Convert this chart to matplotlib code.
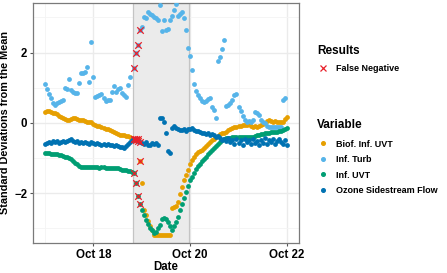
import numpy as np
import pandas as pd
import matplotlib
matplotlib.use('Agg')
import matplotlib.pyplot as plt
import matplotlib.dates as mdates
from matplotlib.lines import Line2D

plt.rcParams['font.family'] = ['Liberation Sans', 'DejaVu Sans']
plt.rcParams['font.weight'] = 'bold'

start = pd.Timestamp('2021-10-17 00:00')

# hourly series, starting Oct 17 00:00
biof_uvt = [0.32, 0.33, 0.33, 0.30, 0.29, 0.28, 0.24, 0.20, 0.17, 0.15,
            0.11, 0.09, 0.09, 0.10, 0.13, 0.15, 0.12, 0.09, 0.08, 0.07,
            0.05, 0.03, 0.03, 0.01, -0.02, -0.05, -0.08, -0.10, -0.12, -0.14,
            -0.17, -0.19, -0.21, -0.24, -0.27, -0.29, -0.32, -0.35, -0.36, -0.36,
            -0.37, -0.38, -0.40, -0.43, -0.47, -0.49, -0.47, -1.09, -1.71, -2.49,
            -2.63, -2.80, -2.95, -3.05, -3.20, -3.20, -3.20, -3.20, -3.20, -3.20,
            -3.20, -3.20, -3.20, -2.43, -2.41, -2.38, -2.25, -2.02, -1.82, -1.64,
            -1.48, -1.33, -1.18, -1.06, -0.97, -0.90, -0.84, -0.80, -0.76, -0.71,
            -0.66, -0.61, -0.56, -0.50, -0.45, -0.41, -0.37, -0.33, -0.30, -0.28,
            -0.25, -0.21, -0.17, -0.14, -0.12, -0.11, -0.10, -0.08, -0.06, -0.06,
            -0.05, -0.04, -0.08, -0.11, -0.10, -0.11, -0.09, -0.06, -0.03, 0.00,
            0.05, 0.09, 0.06, 0.03, 0.04, 0.03, 0.02, 0.03, 0.02, 0.10, 0.17]

inf_uvt = [-0.86, -0.86, -0.87, -0.88, -0.89, -0.90, -0.90, -0.91, -0.92, -0.94,
           -0.96, -0.98, -1.00, -1.03, -1.08, -1.13, -1.18, -1.22, -1.25, -1.26,
           -1.26, -1.25, -1.26, -1.27, -1.26, -1.25, -1.27, -1.28, -1.26, -1.27,
           -1.29, -1.28, -1.30, -1.29, -1.28, -1.30, -1.29, -1.31, -1.33, -1.34,
           -1.34, -1.36, -1.38, -1.41, -1.43, -1.72, -2.09, -2.31, -2.49, -2.63,
           -2.77, -2.88, -2.98, -3.06, -3.14, -3.10, -3.00, -2.90, -2.73, -2.71,
           -2.74, -2.82, -2.95, -3.04, -2.95, -2.82, -2.68, -2.48, -2.32, -2.14,
           -1.96, -1.80, -1.64, -1.54, -1.43, -1.31, -1.24, -1.16, -1.10, -1.03,
           -0.97, -0.90, -0.83, -0.77, -0.72, -0.66, -0.61, -0.55, -0.49, -0.45,
           -0.43, -0.42, -0.42, -0.40, -0.41, -0.40, -0.39, -0.41, -0.40, -0.39,
           -0.40, -0.41, -0.39, -0.40, -0.38, -0.36, -0.34, -0.33, -0.31, -0.30,
           -0.29, -0.28, -0.26, -0.27, -0.26, -0.25, -0.24, -0.22, -0.20, -0.17, -0.14]

ozone_flow = [-0.60, -0.58, -0.55, -0.57, -0.52, -0.55, -0.53, -0.57, -0.54, -0.52,
              -0.56, -0.53, -0.50, -0.46, -0.52, -0.55, -0.53, -0.57, -0.55, -0.58,
              -0.55, -0.57, -0.60, -0.56, -0.58, -0.60, -0.57, -0.59, -0.62, -0.60,
              -0.63, -0.61, -0.64, -0.62, -0.65, -0.63, -0.67, -0.70, -0.68, -0.72,
              -0.66, -0.60, -0.55, -0.50, -0.45, -0.47, -0.52, -0.55, -0.57, -0.60,
              -0.55, -0.62, -0.64, -0.58, -0.60, -0.57, -0.62, 0.14, 0.14, 0.02,
              -0.29, -0.80, -0.86, -0.14, -0.10, -0.15, -0.18, -0.20, -0.20, -0.18,
              -0.22, -0.17, -0.19, -0.15, -0.20, -0.24, -0.22, -0.26, -0.30, -0.28,
              -0.33, -0.30, -0.35, -0.32, -0.36, -0.40, -0.38, -0.43, -0.50, -0.46,
              -0.52, -0.44, -0.55, -0.48, -0.60, -0.45, -0.58, -0.50, -0.62, -0.47,
              -0.56, -0.50, -0.60, -0.45, -0.58, -0.52, -0.62, -0.48, -0.57, -0.44,
              -0.60, -0.50, -0.55, -0.45, -0.60, -0.52, -0.47, -0.55, -0.60, -0.50, -0.62]

# turbidity has a few missing hours
turb_hours = list(range(0, 43)) + list(range(44, 120))
turb_vals = [1.11, 0.97, 0.82, 0.70, 0.57, 0.51, 0.55, 0.60, 0.63, 0.65,
             1.00, 0.97, 1.26, 0.94, 0.89, 0.86, 0.86, 1.12, 1.43, 1.41,
             1.46, 1.58, 1.15, 2.29, 1.31, 0.74, 0.77, 0.80, 0.83, 0.70,
             0.63, 0.64, 0.66, 0.89, 1.04, 0.89, 0.97, 1.00, 0.86, 0.80,
             0.74, 1.09, 1.29,
             1.57, 1.99, 2.22, 2.63, 2.74, 3.00, 2.97, 3.14, 3.09, 3.06,
             3.00, 2.97, 2.94, 3.34, 2.60, 2.94, 2.63, 2.66, 2.94, 3.03,
             3.20, 3.37, 3.05, 3.11, 3.14, 2.97, 2.63, 2.14, 1.89, 1.49,
             1.11, 0.91, 0.80, 0.71, 0.63, 0.60, 0.62, 0.68, 0.71, 0.45,
             0.37, 0.14, 1.77, 1.86, 2.09, 2.37, 0.47, 0.52, 0.57, 0.66,
             0.80, 0.83, 0.45, 0.35, 0.18, 0.09, 0.03, 0.04, 0.03, 0.09,
             0.30, 0.29, 0.21, 0.07, 0.03, 0.00, -0.10, -0.12, -0.12, -0.13,
             -0.12, -0.13, -0.12, -0.11, 0.66, 0.71]

fn_hours = [44, 45, 46, 47]
event_hours = (43.8, 71.3)

colors = {'Biof. Inf. UVT': '#E69F00', 'Inf. Turb': '#56B4E9',
          'Inf. UVT': '#009E73', 'Ozone Sidestream Flow': '#0072B2'}


def to_time(hours):
    return start + pd.to_timedelta(np.asarray(hours, dtype=float), unit='h')


series = {
    'Biof. Inf. UVT': (list(range(len(biof_uvt))), biof_uvt),
    'Inf. Turb': (turb_hours, turb_vals),
    'Inf. UVT': (list(range(len(inf_uvt))), inf_uvt),
    'Ozone Sidestream Flow': (list(range(len(ozone_flow))), ozone_flow),
}

fig = plt.figure(figsize=(4.47, 2.73), dpi=100)
ax = fig.add_axes([0.0738, 0.11, 0.595, 0.879])

ax.axvspan(to_time([event_hours[0]])[0], to_time([event_hours[1]])[0],
           facecolor='#ebebeb', edgecolor='#c4c4c4', lw=0.9, zorder=1)

for name, (hrs, vals) in series.items():
    ax.scatter(to_time(hrs), vals, s=12, color=colors[name], linewidths=0, zorder=3)

# false negatives
for name, (hrs, vals) in series.items():
    lookup = dict(zip(hrs, vals))
    fx = [h for h in fn_hours if h in lookup]
    fy = [lookup[h] for h in fx]
    ax.scatter(to_time(fx), fy, marker='x', s=22, color='#E8202A', linewidths=0.9, zorder=4)

ax.set_xlim(to_time([-6])[0], to_time([126])[0])
ax.set_ylim(-3.42, 3.41)
ax.set_yticks([-2, 0, 2])
ax.set_yticks([-3, -1, 1, 3], minor=True)
ax.xaxis.set_major_locator(mdates.DayLocator(bymonthday=[18, 20, 22]))
ax.xaxis.set_minor_locator(mdates.DayLocator(bymonthday=[17, 19, 21]))
ax.xaxis.set_major_formatter(mdates.DateFormatter('%b %d'))

ax.grid(which='major', color='#ebebeb', lw=1.0, zorder=0)
ax.grid(which='minor', color='#f4f4f4', lw=0.6, zorder=0)
ax.set_axisbelow(True)
for s in ax.spines.values():
    s.set_color('#7a7a7a')
    s.set_linewidth(0.9)
ax.tick_params(which='major', length=2.5, color='#555555', labelsize=8.3, pad=1.5)
ax.tick_params(which='minor', length=0)
for lab in ax.get_xticklabels() + ax.get_yticklabels():
    lab.set_fontweight('bold')
    lab.set_color('black')

ax.set_xlabel('Date', fontsize=8.3, fontweight='bold', labelpad=0)
ax.set_ylabel('Standard Deviations from the Mean', fontsize=7.8, fontweight='bold', labelpad=3)

# legends
fn_handle = [Line2D([], [], marker='x', ls='', color='#E8202A', markersize=5, mew=0.9)]
leg1 = fig.legend(fn_handle, ['False Negative'], title='Results', loc='upper left',
                  bbox_to_anchor=(0.70, 0.850), frameon=False, alignment='left',
                  prop={'size': 6.5, 'weight': 'bold'}, handlelength=1.2,
                  handletextpad=0.9, borderpad=0, labelspacing=0.9,
                  title_fontproperties={'size': 8.5, 'weight': 'bold'})
leg1._legend_box.sep = 5

var_handles = [Line2D([], [], marker='o', ls='', color=c, markersize=2.6) for c in colors.values()]
leg2 = fig.legend(var_handles, list(colors.keys()), title='Variable', loc='upper left',
                  bbox_to_anchor=(0.70, 0.580), frameon=False, alignment='left',
                  prop={'size': 6.5, 'weight': 'bold'}, handlelength=1.2,
                  handletextpad=0.9, borderpad=0, labelspacing=0.72,
                  title_fontproperties={'size': 8.5, 'weight': 'bold'})
leg2._legend_box.sep = 6

fig.savefig('out.png', dpi=100)
